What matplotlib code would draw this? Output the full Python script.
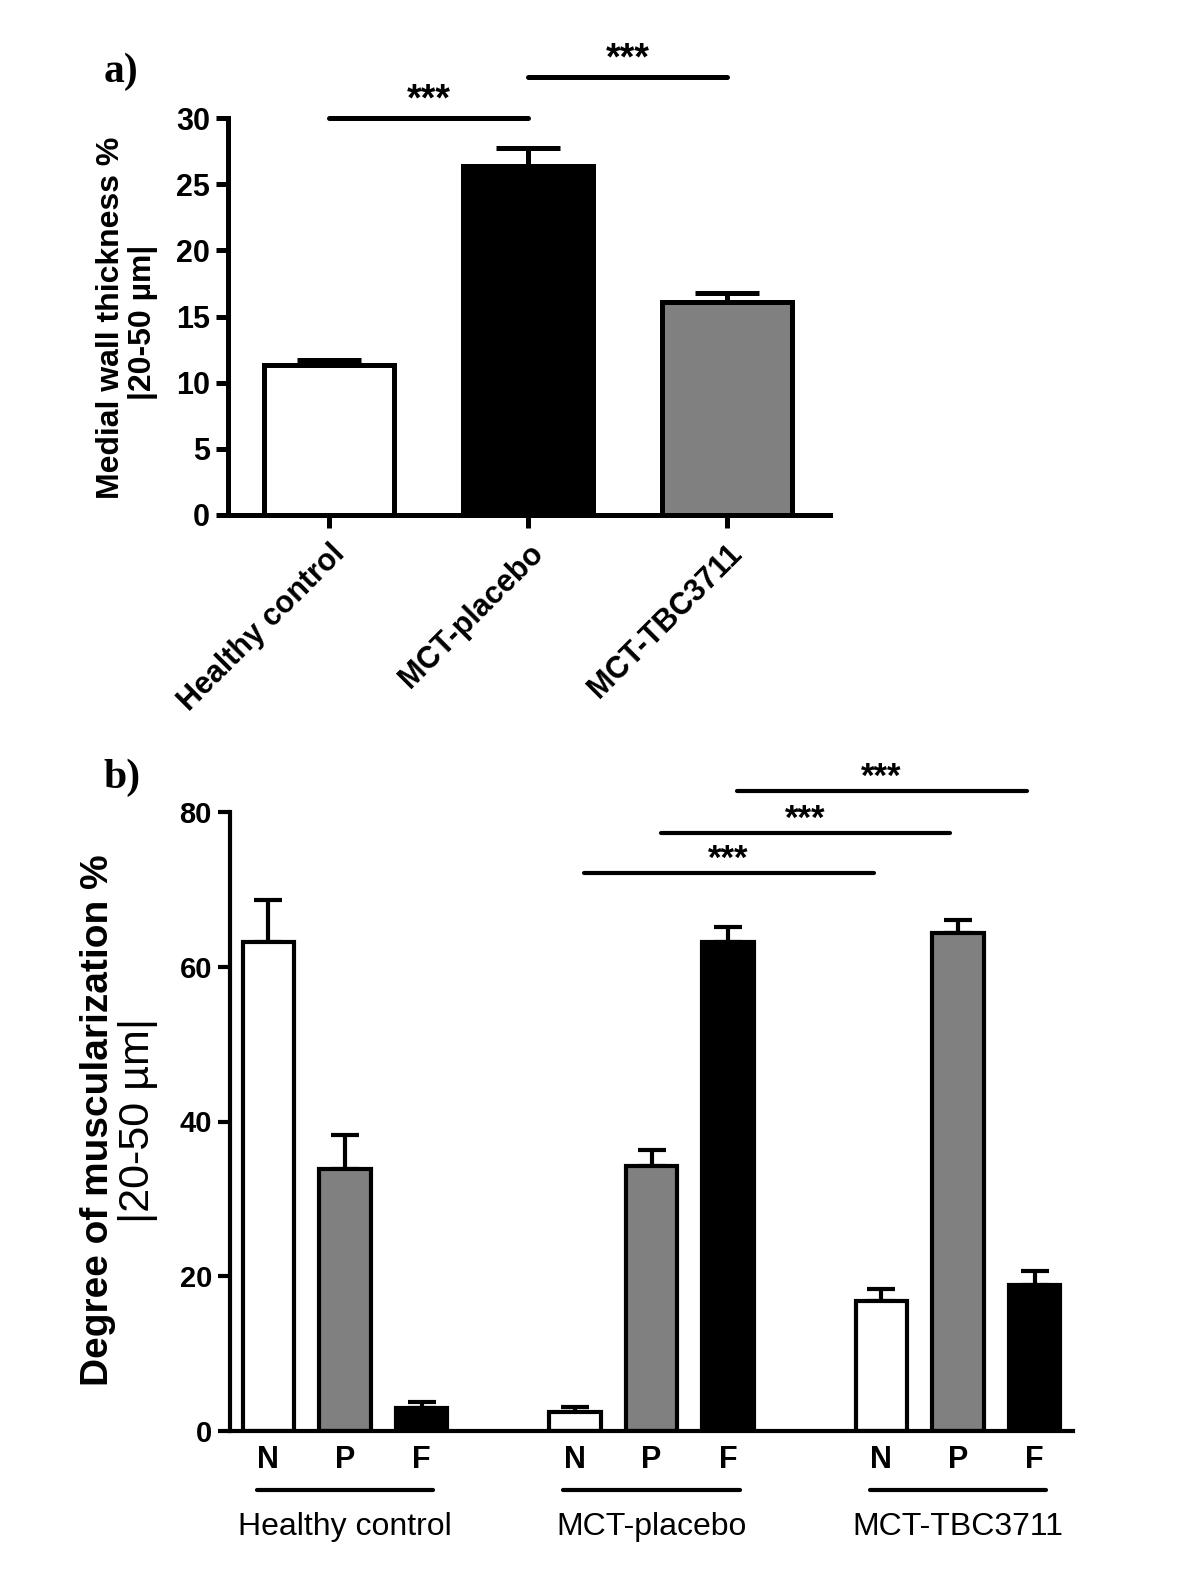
import numpy as np
import matplotlib
matplotlib.use('Agg')
import matplotlib.pyplot as plt
from matplotlib import font_manager

# data
groups = ['Healthy control', 'MCT-placebo', 'MCT-TBC3711']

# a) medial wall thickness, mean and upper error
wall_mean = [11.3, 26.4, 16.1]
wall_err = [0.4, 1.3, 0.7]
wall_colors = ['white', 'black', '#808080']

# b) degree of muscularization, N / P / F for each group
vessel_types = ['N', 'P', 'F']
musc_mean = [63.2, 33.8, 3.0, 2.4, 34.3, 63.2, 16.8, 64.3, 18.9]
musc_err = [5.4, 4.4, 0.8, 0.7, 2.0, 2.0, 1.5, 1.8, 1.8]
musc_colors = ['white', '#808080', 'black'] * 3

# significance brackets (bar index pairs) and their heights
sig_a = [(0, 1), (1, 2)]
sig_a_y = [30.0, 33.1]
sig_b = [(3, 6), (4, 7), (5, 8)]
sig_b_y = [72.1, 77.3, 82.7]

names = {f.name for f in font_manager.fontManager.ttflist}
narrow = 'Liberation Sans Narrow' if 'Liberation Sans Narrow' in names else 'Liberation Sans'
plt.rcParams['font.family'] = ['Liberation Sans', 'DejaVu Sans']

fig = plt.figure(figsize=(12, 15.88), dpi=100)
W, H = 1200, 1588

def axes_px(left, top, right, bottom):
    return fig.add_axes([left / W, 1 - bottom / H, (right - left) / W, (bottom - top) / H])

def style(ax, lw):
    for s in ['top', 'right']:
        ax.spines[s].set_visible(False)
    for s in ['left', 'bottom']:
        ax.spines[s].set_linewidth(lw)
    ax.tick_params(axis='both', direction='out', length=9, width=lw)

# ---------------- panel a ----------------
lw_a = 3.6
axA = axes_px(228, 118, 830, 515)
xa = np.arange(len(groups))
axA.errorbar(xa, wall_mean, yerr=[np.zeros(len(xa)), wall_err], fmt='none',
             ecolor='black', elinewidth=lw_a, capsize=23, capthick=lw_a, zorder=1)
axA.bar(xa, wall_mean, width=0.655, color=wall_colors, edgecolor='black',
        linewidth=lw_a, zorder=2)
axA.set_xlim(-0.51, 2.52)
axA.set_ylim(0, 30)
axA.set_yticks(np.arange(0, 31, 5))
axA.set_xticks(xa)
axA.set_xticklabels(groups, rotation=45, ha='right', rotation_mode='anchor',
                    fontsize=22, fontweight='bold')
for lab in axA.get_yticklabels():
    lab.set_fontsize(22)
    lab.set_fontweight('bold')
style(axA, lw_a)
axA.tick_params(axis='x', pad=8)
axA.tick_params(axis='y', pad=4)

for (i, j), y in zip(sig_a, sig_a_y):
    axA.plot([xa[i], xa[j]], [y, y], color='black', lw=lw_a,
             solid_capstyle='round', clip_on=False)
    axA.text((xa[i] + xa[j]) / 2, y + 1.3, '***', ha='center', va='center',
             fontsize=27, fontweight='bold', clip_on=False)

fig.text(111 / W, 1 - 318 / H, 'Medial wall thickness %', rotation=90,
         ha='center', va='center', fontsize=23, fontweight='bold')
fig.text(143 / W, 1 - 322 / H, '|20-50 \u00b5m|', rotation=90,
         ha='center', va='center', fontsize=23, fontweight='bold')
fig.text(121 / W, 1 - 72 / H, 'a)', ha='center', va='center', fontsize=30,
         fontweight='bold', family='Liberation Serif')

# ---------------- panel b ----------------
lw_b = 3.0
axB = axes_px(230, 812, 1073, 1431)
xb = np.array([0, 1, 2, 4, 5, 6, 8, 9, 10])
axB.errorbar(xb, musc_mean, yerr=[np.zeros(len(xb)), musc_err], fmt='none',
             ecolor='black', elinewidth=lw_b, capsize=10, capthick=lw_b, zorder=1)
axB.bar(xb, musc_mean, width=0.67, color=musc_colors, edgecolor='black',
        linewidth=lw_b, zorder=2)
axB.set_xlim(-0.5, 10.5)
axB.set_ylim(0, 80)
axB.set_yticks(np.arange(0, 81, 20))
axB.set_xticks([])
for lab in axB.get_yticklabels():
    lab.set_fontsize(21)
    lab.set_fontweight('bold')
style(axB, lw_b)
axB.tick_params(axis='y', pad=4)

for (i, j), y in zip(sig_b, sig_b_y):
    axB.plot([xb[i] + 0.12, xb[j] - 0.1], [y, y], color='black', lw=lw_b,
             solid_capstyle='round', clip_on=False)
    axB.text((xb[i] + xb[j]) / 2, y + 1.8, '***', ha='center', va='center',
             fontsize=25, fontweight='bold', clip_on=False)

trans = axB.get_xaxis_transform()
for k, g in enumerate(groups):
    base = xb[3 * k]
    for m, v in enumerate(vessel_types):
        axB.text(base + m, -0.047, v, transform=trans, ha='center', va='center',
                 fontsize=22, fontweight='bold', family=[narrow, 'DejaVu Sans'])
    axB.plot([base - 0.15, base + 2.15], [-0.095, -0.095], transform=trans,
             color='black', lw=lw_b, solid_capstyle='round', clip_on=False)
    axB.text(base + 1, -0.155, g, transform=trans, ha='center', va='center',
             fontsize=23, family=[narrow, 'DejaVu Sans'])

fig.text(98 / W, 1 - 1120 / H, 'Degree of muscularization %', rotation=90,
         ha='center', va='center', fontsize=28, fontweight='bold')
fig.text(138 / W, 1 - 1120 / H, '|20-50 \u00b5m|', rotation=90,
         ha='center', va='center', fontsize=31)
fig.text(122 / W, 1 - 778 / H, 'b)', ha='center', va='center', fontsize=30,
         fontweight='bold', family='Liberation Serif')

fig.savefig('out.png', dpi=100)
